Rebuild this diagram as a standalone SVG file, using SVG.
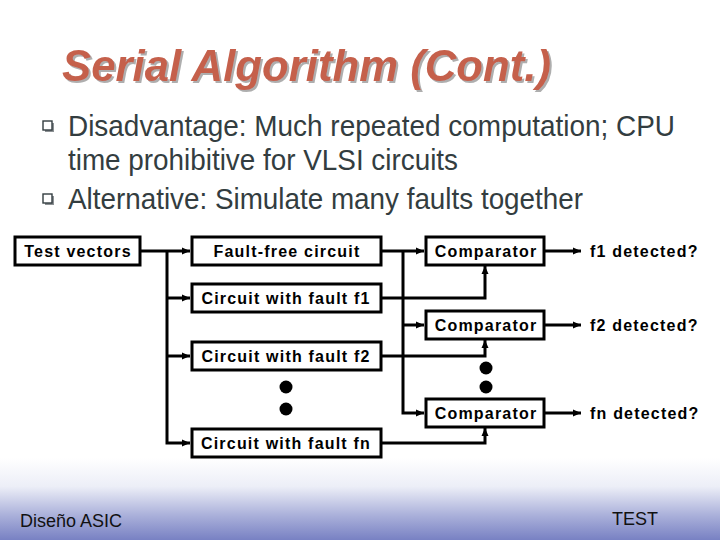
<svg xmlns="http://www.w3.org/2000/svg" width="720" height="540" viewBox="0 0 720 540">
<defs>
<linearGradient id="foot" x1="0" y1="0" x2="0" y2="1">
<stop offset="0" stop-color="#ffffff"/>
<stop offset="0.35" stop-color="#eceef7"/>
<stop offset="0.7" stop-color="#aab0da"/>
<stop offset="1" stop-color="#7881c3"/>
</linearGradient>
<filter id="shadow" x="-5%" y="-20%" width="110%" height="140%">
<feDropShadow dx="2" dy="2" stdDeviation="0.6" flood-color="#9a9a9a" flood-opacity="0.8"/>
</filter>
<marker id="arr" markerUnits="userSpaceOnUse" markerWidth="8" markerHeight="8" refX="8" refY="4" orient="auto">
<path d="M0,0.5 L8,4 L0,7.5 z" fill="#000"/>
</marker>
<style>
.box{fill:#fff;stroke:#000;stroke-width:3}
.lbl{font-family:"Liberation Sans",Arial,sans-serif;font-weight:bold;font-size:16px;letter-spacing:1.2px;fill:#000}
.mid{text-anchor:middle}
.wire{fill:none;stroke:#000;stroke-width:3}
.bul{font-family:"Liberation Sans",Arial,sans-serif;font-size:30px;fill:#333d40}
.dot{fill:#000}
</style>
</defs>
<rect x="0" y="0" width="720" height="540" fill="#fff"/>
<rect x="0" y="458" width="720" height="82" fill="url(#foot)"/>

<g id="title">
<text x="62" y="81" font-family="Liberation Sans,Arial,sans-serif" font-weight="bold" font-style="italic" font-size="44" fill="#c5604c" textLength="489" lengthAdjust="spacingAndGlyphs" filter="url(#shadow)">Serial Algorithm (Cont.)</text>
</g>

<g id="bullets">
<rect x="45" y="123" width="9" height="9" fill="#8c9194"/>
<rect x="43" y="121" width="9" height="9" fill="#fff" stroke="#333d40" stroke-width="1.4"/>
<text class="bul" x="68" y="136" textLength="607" lengthAdjust="spacingAndGlyphs">Disadvantage: Much repeated computation; CPU</text>
<text class="bul" x="68" y="170" textLength="390" lengthAdjust="spacingAndGlyphs">time prohibitive for VLSI circuits</text>
<rect x="45" y="196" width="9" height="9" fill="#8c9194"/>
<rect x="43" y="194" width="9" height="9" fill="#fff" stroke="#333d40" stroke-width="1.4"/>
<text class="bul" x="68" y="209" textLength="515" lengthAdjust="spacingAndGlyphs">Alternative: Simulate many faults together</text>
</g>

<g id="connectors">
<path class="wire" d="M140,251 H190" marker-end="url(#arr)"/>
<path class="wire" d="M167,251 V443 H190" marker-end="url(#arr)"/>
<path class="wire" d="M167,298 H190" marker-end="url(#arr)"/>
<path class="wire" d="M167,356 H190" marker-end="url(#arr)"/>
<path class="wire" d="M381,251 H424" marker-end="url(#arr)"/>
<path class="wire" d="M403,251 V413 H424" marker-end="url(#arr)"/>
<path class="wire" d="M403,325 H424" marker-end="url(#arr)"/>
<path class="wire" d="M381,298 H485 V266" marker-end="url(#arr)"/>
<path class="wire" d="M381,356 H485 V340" marker-end="url(#arr)"/>
<path class="wire" d="M381,443 H485 V428" marker-end="url(#arr)"/>
<path class="wire" d="M544,251 H581" marker-end="url(#arr)"/>
<path class="wire" d="M544,325 H581" marker-end="url(#arr)"/>
<path class="wire" d="M544,413 H581" marker-end="url(#arr)"/>
</g>

<g id="test-vectors">
<rect class="box" x="15" y="237" width="125" height="28"/>
<text class="lbl mid" x="78" y="257">Test vectors</text>
</g>
<g id="fault-free">
<rect class="box" x="192" y="237" width="189" height="28"/>
<text class="lbl mid" x="287" y="257">Fault-free circuit</text>
</g>
<g id="fault-f1">
<rect class="box" x="192" y="284" width="189" height="28"/>
<text class="lbl mid" x="286" y="304">Circuit with fault f1</text>
</g>
<g id="fault-f2">
<rect class="box" x="192" y="342" width="189" height="28"/>
<text class="lbl mid" x="286" y="362">Circuit with fault f2</text>
</g>
<g id="fault-fn">
<rect class="box" x="192" y="429" width="189" height="28"/>
<text class="lbl mid" x="286" y="449">Circuit with fault fn</text>
</g>
<g id="comparator-1">
<rect class="box" x="426" y="237" width="118" height="28"/>
<text class="lbl mid" x="486" y="257">Comparator</text>
</g>
<g id="comparator-2">
<rect class="box" x="426" y="311" width="118" height="28"/>
<text class="lbl mid" x="486" y="331">Comparator</text>
</g>
<g id="comparator-3">
<rect class="box" x="426" y="399" width="118" height="28"/>
<text class="lbl mid" x="486" y="419">Comparator</text>
</g>
<g id="outputs">
<text class="lbl" x="590" y="257">f1 detected?</text>
<text class="lbl" x="590" y="331">f2 detected?</text>
<text class="lbl" x="590" y="419">fn detected?</text>
</g>
<g id="ellipsis">
<circle class="dot" cx="286" cy="387" r="6.5"/>
<circle class="dot" cx="286" cy="409" r="6.5"/>
<circle class="dot" cx="486" cy="368" r="6.5"/>
<circle class="dot" cx="486" cy="387" r="6.5"/>
</g>

<g id="footer">
<text x="20" y="527" font-family="Liberation Sans,Arial,sans-serif" font-size="18" fill="#111">Diseño ASIC</text>
<text x="612" y="525" font-family="Liberation Sans,Arial,sans-serif" font-size="18" fill="#111">TEST</text>
</g>
</svg>
